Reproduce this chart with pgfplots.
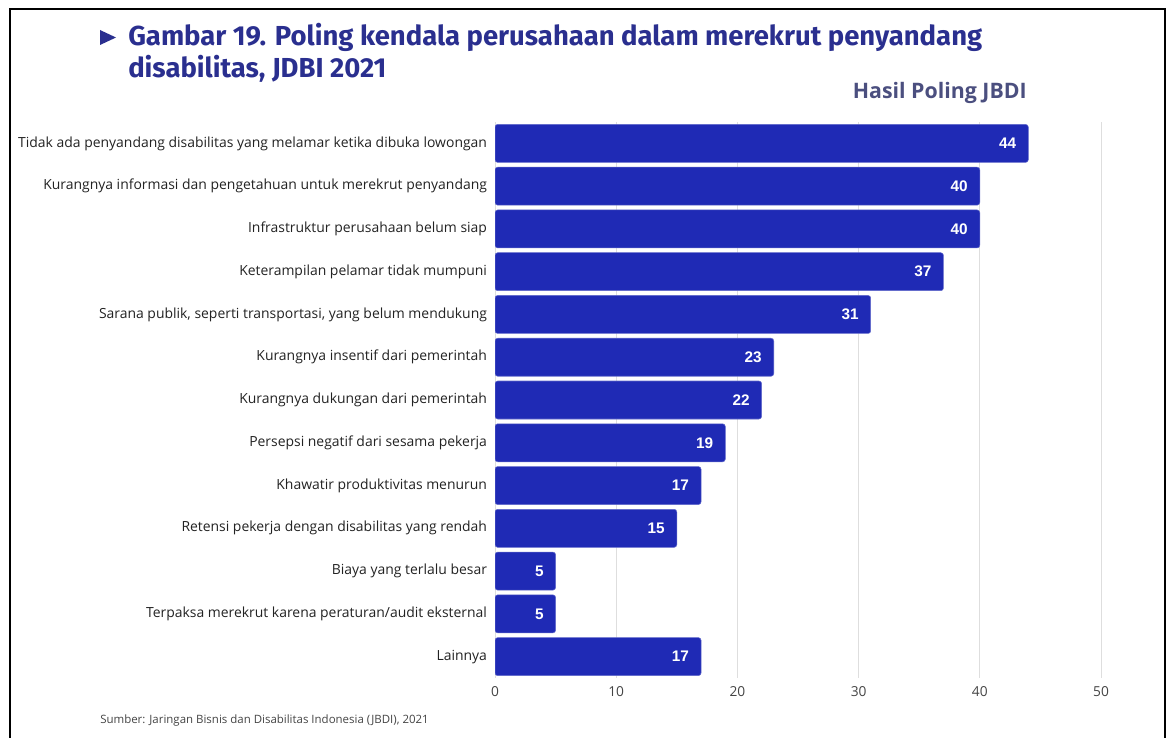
\documentclass[border=0pt]{standalone}
\usepackage{fontspec}
\usepackage{pgfplots}
\pgfplotsset{compat=1.18}
\setmainfont{Open Sans}
\newfontfamily\titlefont{Fira Sans}
\newfontfamily\valfont{Liberation Sans}
\definecolor{barblue}{HTML}{1F2AB5}
\definecolor{titleblue}{HTML}{2A2F8F}
\definecolor{subgray}{HTML}{4B4F7F}
\definecolor{labgray}{HTML}{222222}
\definecolor{tickgray}{HTML}{444444}
\begin{document}
\begin{tikzpicture}[x=0.75pt,y=0.75pt]
\useasboundingbox (0,0) rectangle (1173,-738);
\draw[line width=1.5pt] (10,-745) -- (10,-9) -- (1165,-9) -- (1165,-745);
\fill[titleblue] (100,-30) -- (116,-37.5) -- (100,-45) -- cycle;
\node[anchor=base west, inner sep=0, text=titleblue, font=\titlefont\bfseries\fontsize{20.6}{24}\selectfont] at (128,-46) {Gambar 19. Poling kendala perusahaan dalam merekrut penyandang};
\node[anchor=base west, inner sep=0, text=titleblue, font=\titlefont\bfseries\fontsize{20.6}{24}\selectfont] at (128,-78) {disabilitas, JDBI 2021};
\node[anchor=base east, inner sep=0, text=subgray, font=\bfseries\fontsize{16}{18}\selectfont] at (1027,-99) {Hasil Poling JBDI};
\node[anchor=base west, inner sep=0, text=tickgray, font=\fontsize{8.6}{10}\selectfont] at (100,-723) {Sumber: Jaringan Bisnis dan Disabilitas Indonesia (JBDI), 2021};
\begin{axis}[
  at={(371.25pt,-508.5pt)}, anchor=south west,
  scale only axis, width=454.5pt, height=417pt,
  xbar, bar width=28.5pt,
  xmin=0, xmax=50, ymin=-0.5, ymax=12.5, y dir=reverse,
  ytick={0,...,12},
  yticklabels={
    Tidak ada penyandang disabilitas yang melamar ketika dibuka lowongan,
    Kurangnya informasi dan pengetahuan untuk merekrut penyandang,
    Infrastruktur perusahaan belum siap,
    Keterampilan pelamar tidak mumpuni,
    {Sarana publik, seperti transportasi, yang belum mendukung},
    Kurangnya insentif dari pemerintah,
    Kurangnya dukungan dari pemerintah,
    Persepsi negatif dari sesama pekerja,
    Khawatir produktivitas menurun,
    Retensi pekerja dengan disabilitas yang rendah,
    Biaya yang terlalu besar,
    Terpaksa merekrut karena peraturan/audit eksternal,
    Lainnya},
  xtick={0,10,...,50},
  xmajorgrids, grid style={draw=black!13, line width=0.75pt},
  axis line style={draw=none}, major tick length=0pt,
  /pgf/number format/assume math mode=true,
  yticklabel style={font=\fontsize{10.45}{12}\selectfont, text=labgray, xshift=-2.5pt},
  xticklabel style={font=\fontsize{10.3}{12}\selectfont, text=tickgray, yshift=-2.5pt},
  nodes near coords,
  every node near coord/.append style={anchor=east, xshift=-5.5pt, text=white, font=\valfont\bfseries\fontsize{11.5}{12}\selectfont},
]
\addplot[fill=barblue, draw=barblue!70!white, line width=0.4pt, rounded corners=2pt] coordinates {
(44,0) (40,1) (40,2) (37,3) (31,4) (23,5) (22,6) (19,7) (17,8) (15,9) (5,10) (5,11) (17,12)};
\end{axis}
\end{tikzpicture}
\end{document}
